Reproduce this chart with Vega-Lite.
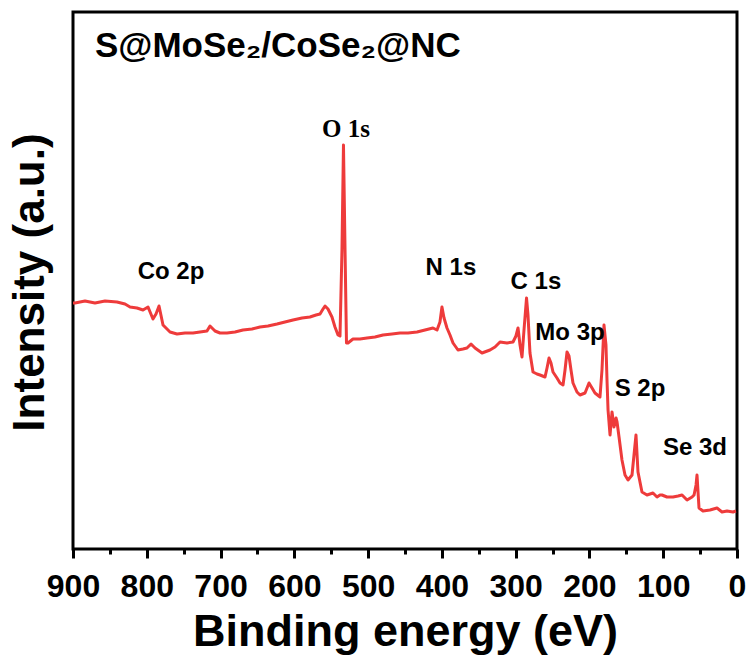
{
  "$schema": "https://vega.github.io/schema/vega-lite/v6.json",
  "width": 664,
  "height": 537,
  "autosize": {"type": "none"},
  "padding": {"left": 73, "top": 12, "right": 13, "bottom": 110},
  "background": "white",
  "config": {
    "view": {"stroke": "black", "strokeWidth": 3},
    "axis": {"grid": false}
  },
  "datasets": {
    "spectrum": [
      {"be": 900.0, "intensity": 246}, {"be": 897.3, "intensity": 246}, {"be": 883.7, "intensity": 248},
      {"be": 870.2, "intensity": 246}, {"be": 856.6, "intensity": 248}, {"be": 840.4, "intensity": 247},
      {"be": 829.5, "intensity": 245}, {"be": 822.7, "intensity": 242}, {"be": 813.3, "intensity": 241},
      {"be": 805.1, "intensity": 239}, {"be": 798.3, "intensity": 242}, {"be": 791.6, "intensity": 230},
      {"be": 787.5, "intensity": 235}, {"be": 783.4, "intensity": 243}, {"be": 778.0, "intensity": 224},
      {"be": 768.5, "intensity": 217}, {"be": 759.0, "intensity": 215}, {"be": 748.2, "intensity": 216},
      {"be": 737.3, "intensity": 216}, {"be": 727.9, "intensity": 217}, {"be": 718.4, "intensity": 218},
      {"be": 714.3, "intensity": 223}, {"be": 707.5, "intensity": 218}, {"be": 700.8, "intensity": 216},
      {"be": 691.3, "intensity": 216}, {"be": 680.4, "intensity": 217}, {"be": 669.6, "intensity": 219},
      {"be": 657.4, "intensity": 220}, {"be": 646.5, "intensity": 222}, {"be": 635.7, "intensity": 223},
      {"be": 623.5, "intensity": 225}, {"be": 612.7, "intensity": 227}, {"be": 601.8, "intensity": 229},
      {"be": 589.6, "intensity": 231}, {"be": 578.8, "intensity": 232}, {"be": 570.6, "intensity": 234},
      {"be": 565.2, "intensity": 235}, {"be": 561.1, "intensity": 240}, {"be": 558.4, "intensity": 243},
      {"be": 554.4, "intensity": 240}, {"be": 549.0, "intensity": 232}, {"be": 544.9, "intensity": 222},
      {"be": 540.8, "intensity": 214}, {"be": 538.1, "intensity": 213}, {"be": 535.4, "intensity": 300},
      {"be": 533.4, "intensity": 404}, {"be": 531.3, "intensity": 300}, {"be": 529.3, "intensity": 206},
      {"be": 527.3, "intensity": 206}, {"be": 520.5, "intensity": 210}, {"be": 511.0, "intensity": 210},
      {"be": 501.5, "intensity": 211}, {"be": 490.7, "intensity": 212}, {"be": 479.8, "intensity": 214},
      {"be": 467.6, "intensity": 215}, {"be": 456.8, "intensity": 216}, {"be": 445.9, "intensity": 216},
      {"be": 433.7, "intensity": 217}, {"be": 422.9, "intensity": 219}, {"be": 412.1, "intensity": 221},
      {"be": 406.6, "intensity": 219}, {"be": 402.6, "intensity": 227}, {"be": 399.9, "intensity": 242},
      {"be": 397.1, "intensity": 231}, {"be": 393.1, "intensity": 221}, {"be": 389.0, "intensity": 214},
      {"be": 384.9, "intensity": 206}, {"be": 378.2, "intensity": 199}, {"be": 371.4, "intensity": 200},
      {"be": 366.0, "intensity": 201}, {"be": 360.5, "intensity": 205}, {"be": 355.1, "intensity": 201},
      {"be": 345.6, "intensity": 196}, {"be": 334.8, "intensity": 199}, {"be": 328.0, "intensity": 202},
      {"be": 321.2, "intensity": 207}, {"be": 311.8, "intensity": 206}, {"be": 303.6, "intensity": 207},
      {"be": 299.6, "intensity": 213}, {"be": 296.8, "intensity": 221}, {"be": 294.1, "intensity": 204},
      {"be": 291.4, "intensity": 192}, {"be": 288.7, "intensity": 219}, {"be": 285.3, "intensity": 251},
      {"be": 283.3, "intensity": 234}, {"be": 280.6, "intensity": 196}, {"be": 276.5, "intensity": 177},
      {"be": 271.1, "intensity": 175}, {"be": 267.0, "intensity": 174}, {"be": 260.2, "intensity": 172},
      {"be": 257.5, "intensity": 181}, {"be": 254.8, "intensity": 191}, {"be": 252.1, "intensity": 186},
      {"be": 249.4, "intensity": 177}, {"be": 244.0, "intensity": 171}, {"be": 239.9, "intensity": 166},
      {"be": 235.8, "intensity": 164}, {"be": 233.1, "intensity": 179}, {"be": 230.4, "intensity": 197},
      {"be": 227.7, "intensity": 193}, {"be": 225.0, "intensity": 179}, {"be": 222.3, "intensity": 166},
      {"be": 216.9, "intensity": 157}, {"be": 212.8, "intensity": 154}, {"be": 206.0, "intensity": 156},
      {"be": 200.6, "intensity": 166}, {"be": 196.5, "intensity": 161}, {"be": 192.5, "intensity": 156},
      {"be": 185.7, "intensity": 152}, {"be": 183.0, "intensity": 179}, {"be": 180.3, "intensity": 224},
      {"be": 177.6, "intensity": 204}, {"be": 176.2, "intensity": 169}, {"be": 174.8, "intensity": 139},
      {"be": 172.1, "intensity": 114}, {"be": 169.4, "intensity": 137}, {"be": 166.7, "intensity": 122},
      {"be": 164.0, "intensity": 131}, {"be": 162.6, "intensity": 127}, {"be": 159.9, "intensity": 112},
      {"be": 155.9, "intensity": 89}, {"be": 151.8, "intensity": 74}, {"be": 147.7, "intensity": 69},
      {"be": 142.3, "intensity": 74}, {"be": 139.6, "intensity": 94}, {"be": 136.9, "intensity": 114},
      {"be": 134.2, "intensity": 77}, {"be": 128.8, "intensity": 57}, {"be": 122.0, "intensity": 54},
      {"be": 117.9, "intensity": 55}, {"be": 113.9, "intensity": 56}, {"be": 108.4, "intensity": 52},
      {"be": 104.4, "intensity": 54}, {"be": 101.7, "intensity": 54}, {"be": 94.9, "intensity": 52},
      {"be": 86.7, "intensity": 52}, {"be": 79.9, "intensity": 53}, {"be": 74.5, "intensity": 54},
      {"be": 67.7, "intensity": 49}, {"be": 60.9, "intensity": 52}, {"be": 58.2, "intensity": 54},
      {"be": 55.5, "intensity": 64}, {"be": 54.2, "intensity": 74}, {"be": 51.5, "intensity": 41},
      {"be": 46.1, "intensity": 38}, {"be": 36.6, "intensity": 39}, {"be": 27.1, "intensity": 41},
      {"be": 20.3, "intensity": 37}, {"be": 13.5, "intensity": 38}, {"be": 5.4, "intensity": 37},
      {"be": 1.4, "intensity": 38}
    ],
    "peaks": [
      {"label": "Co 2p", "be": 767.2, "intensity": 270},
      {"label": "N 1s", "be": 387.7, "intensity": 274},
      {"label": "C 1s", "be": 272.5, "intensity": 260},
      {"label": "Mo 3p", "be": 226.4, "intensity": 209},
      {"label": "S 2p", "be": 131.5, "intensity": 153},
      {"label": "Se 3d", "be": 57.0, "intensity": 94}
    ],
    "oxygen": [
      {"label": "O 1s", "be": 530.0, "intensity": 412}
    ],
    "sample": [
      {"label": "S@MoSe₂/CoSe₂@NC", "be": 870.2, "intensity": 492}
    ]
  },
  "resolve": {"axis": {"x": "independent"}},
  "layer": [
    {
      "data": {"name": "spectrum"},
      "mark": {"type": "line", "color": "#ee3b3b", "strokeWidth": 3, "strokeJoin": "round"},
      "encoding": {
        "x": {
          "field": "be", "type": "quantitative",
          "scale": {"domain": [900, 0], "nice": false, "zero": false},
          "axis": {
            "orient": "bottom",
            "title": "Binding energy (eV)",
            "values": [0, 100, 200, 300, 400, 500, 600, 700, 800, 900],
            "domain": false,
            "ticks": true, "tickSize": 9, "tickWidth": 3, "tickColor": "black",
            "labelFont": "Liberation Sans", "labelFontWeight": "bold", "labelFontSize": 32,
            "labelColor": "black", "labelPadding": 38, "labelBaseline": "alphabetic",
            "labelFlush": false, "labelOverlap": false, "labelBound": false,
            "titleFont": "Liberation Sans", "titleFontWeight": "bold", "titleFontSize": 45,
            "titleColor": "black", "titleBaseline": "alphabetic", "titleY": 96
          }
        },
        "y": {
          "field": "intensity", "type": "quantitative",
          "scale": {"domain": [0, 537], "nice": false, "zero": false},
          "axis": {
            "title": "Intensity (a.u.)",
            "labels": false, "ticks": false, "domain": false,
            "titleFont": "Liberation Sans", "titleFontWeight": "bold", "titleFontSize": 44,
            "titleColor": "black", "titleBaseline": "alphabetic", "titleX": -30, "titleY": 270
          }
        }
      }
    },
    {
      "data": {"name": "peaks"},
      "mark": {"type": "text", "font": "Liberation Sans", "fontWeight": "bold", "fontSize": 24, "color": "black", "align": "center", "baseline": "alphabetic"},
      "encoding": {
        "x": {
          "field": "be", "type": "quantitative",
          "axis": {
            "orient": "bottom", "title": null, "labels": false, "domain": false,
            "values": [50, 150, 250, 350, 450, 550, 650, 750, 850],
            "ticks": true, "tickSize": 5, "tickWidth": 3, "tickColor": "black"
          }
        },
        "y": {"field": "intensity", "type": "quantitative"},
        "text": {"field": "label"}
      }
    },
    {
      "data": {"name": "oxygen"},
      "mark": {"type": "text", "font": "Liberation Serif", "fontWeight": "bold", "fontSize": 25, "color": "black", "align": "center", "baseline": "alphabetic"},
      "encoding": {
        "x": {"field": "be", "type": "quantitative", "axis": null},
        "y": {"field": "intensity", "type": "quantitative"},
        "text": {"field": "label"}
      }
    },
    {
      "data": {"name": "sample"},
      "mark": {"type": "text", "font": "Liberation Sans", "fontWeight": "bold", "fontSize": 35, "color": "black", "align": "left", "baseline": "alphabetic"},
      "encoding": {
        "x": {"field": "be", "type": "quantitative", "axis": null},
        "y": {"field": "intensity", "type": "quantitative"},
        "text": {"field": "label"}
      }
    }
  ]
}
